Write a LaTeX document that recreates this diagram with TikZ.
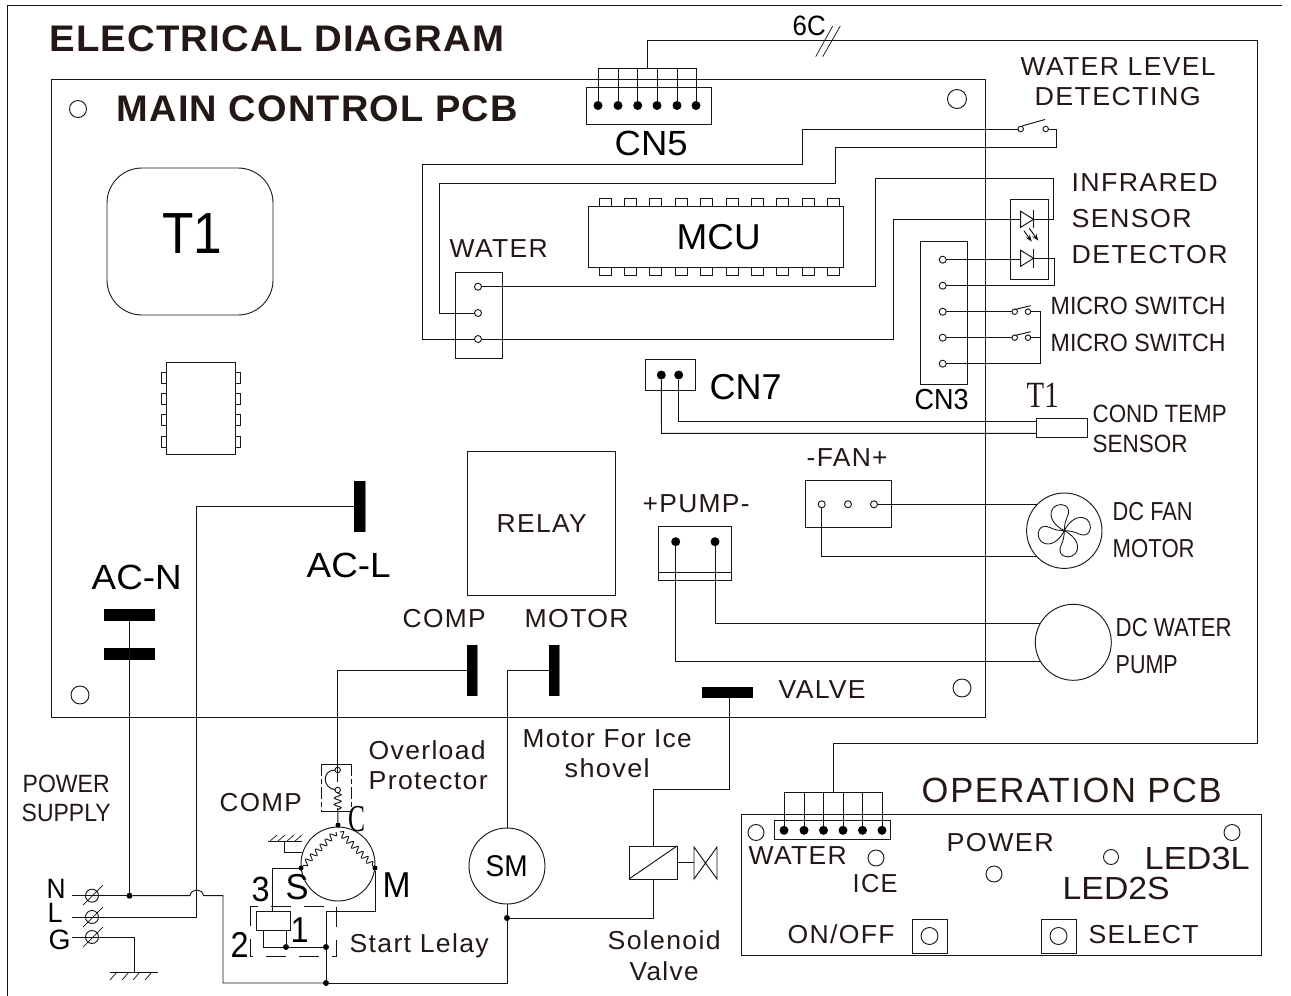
\documentclass[tikz,border=0pt]{standalone}
\usepackage{graphicx}
\usepackage{fontspec}
\setmainfont{Liberation Sans}
\newfontfamily\spf[LetterSpace=5]{Liberation Sans}
\newfontfamily\boldf[LetterSpace=3]{Liberation Sans Bold}
\newfontfamily\serf{Liberation Serif}
\usetikzlibrary{decorations.pathmorphing,arrows.meta}
\definecolor{ink}{HTML}{231815}
\newsavebox\fwbox
\newcommand\fw[4]{\sbox\fwbox{#1\fontsize{#3}{#3}\selectfont #4}\pgfmathsetmacro\fwr{#2/(\wd\fwbox)}\scalebox{\fwr}[1]{\usebox\fwbox}}
% \lab[style]{name}{x}{y}{font}{width}{size}{text}
\newcommand\lab[8][]{\node[lbl,#1] (#2) at ({#3-0.3},{#4-0.2}) {\fw{#5}{#6}{#7}{#8}};}
\tikzset{
  wire/.style={line width=0.95pt,draw=black!92,line join=miter},
  box/.style={draw=black!90,line width=0.9pt,rectangle,inner sep=0pt,outer sep=0pt},
  lbl/.style={inner sep=0pt,outer sep=0pt,anchor=base west,text=ink},
  blk/.style={text=black},
  pin/.style={draw=black!90,line width=0.95pt,circle,inner sep=0pt,outer sep=0pt,minimum size=7pt},
  smallpin/.style={pin,minimum size=5.5pt},
  hole/.style={pin,minimum size=17pt},
  dotn/.style={fill=black,circle,inner sep=0pt,outer sep=0pt,minimum size=9pt},
  jn/.style={fill=black,circle,inner sep=0pt,outer sep=0pt,minimum size=6pt},
  term/.style={fill=black,rectangle,inner sep=0pt,outer sep=0pt},
  screw/.style={pin,minimum size=13pt},
  pad/.style={draw=black!90,line width=0.95pt},
}
\begin{document}
\begin{tikzpicture}[x=1pt,y=-1pt]
\useasboundingbox (0,0) rectangle (1291,996);
\fill[white] (0,0) rectangle (1291,996);
% outer frame
\coordinate (fa) at (7,996);\coordinate (fb) at (1282,5.5);
\draw[wire] (fa) -- (7,5.5) -- (fb);
% main boards
\node[box,minimum width=934pt,minimum height=638pt] (pcb) at (518,398) {};
\node[box,minimum width=166pt,minimum height=147pt,rounded corners=35pt] (t1box) at (190,241.5) {};
\node[box,minimum width=69pt,minimum height=92pt] (chip) at (200.5,408) {};
\foreach \y in {372,393,414.5,436}{
  \draw[pad] (166,\y) rectangle (161,\y+11);
  \draw[pad] (235,\y) rectangle (240,\y+11);
}
\node[box,minimum width=255pt,minimum height=61pt] (mcu) at (715.5,236.5) {};
\foreach \i in {0,...,9}{
  \draw[pad] ({599+25.4*\i},206) -- ({599+25.4*\i},198) -- ({611+25.4*\i},198) -- ({611+25.4*\i},206);
  \draw[pad] ({599+25.4*\i},267) -- ({599+25.4*\i},275) -- ({611+25.4*\i},275) -- ({611+25.4*\i},267);
}
\node[box,minimum width=148pt,minimum height=144pt] (relay) at (541,523) {};
% holes
\node[hole] (h1) at (78,109) {};
\node[hole,minimum size=19pt] (h2) at (957,99) {};
\node[hole,minimum size=18pt] (h3) at (80,695) {};
\node[hole,minimum size=18pt] (h4) at (962,688) {};
% CN5
\node[box,minimum width=125pt,minimum height=37pt] (cn5) at (648.5,105.5) {};
\foreach \n/\x in {a/598,b/618,c/637.7,d/657,e/677,f/696}{
  \node[dotn] (c5\n) at (\x,105.5) {};
  \coordinate (c5t\n) at (\x,68);
  \draw[wire] (c5\n) -- (c5t\n);
}
\coordinate (c5s) at (647.7,68);
\draw[wire] (c5ta) -- (c5tf);
\coordinate (c5end) at (833.3,743);
\coordinate (oprt) at (833.3,792.3);
\draw[wire] (c5s) -- (647.7,40.7) -- (1257,40.7) -- (1257,743) -- (c5end) -- (oprt);
\coordinate (sl1a) at (815.7,56.7);\coordinate (sl1b) at (832.7,26);
\coordinate (sl2a) at (822.7,56.7);\coordinate (sl2b) at (840.3,26);
\draw[wire,line width=0.7pt] (sl1a) -- (sl1b) (sl2a) -- (sl2b);
% WATER connector
\node[box,minimum width=47pt,minimum height=86pt] (wbox) at (479,315.7) {};
\node[pin] (w1) at (478,286.7) {};
\node[pin] (w2) at (478,313) {};
\node[pin] (w3) at (478,339) {};
% water level switch
\node[smallpin] (sa) at (1020.7,129) {};
\node[smallpin] (sb) at (1045.7,129) {};
\draw[wire] (1022,126) -- (1045,119.5);
\draw[wire] (w3) -- (422,339) -- (422,164) -- (802.7,164) -- (802.7,129) -- (sa);
\draw[wire] (w2) -- (439.3,313) -- (439.3,183.3) -- (835,183.3) -- (835,147.7) -- (1056,147.7) -- (1056,129) -- (sb);
% IR sensor
\node[box,minimum width=38pt,minimum height=79.7pt] (ir) at (1029.3,239.2) {};
\coordinate (d1a) at (1020.7,219.3);\coordinate (d1k) at (1033.5,219.3);
\coordinate (d2a) at (1020.7,258.3);\coordinate (d2k) at (1033.5,258.3);
\draw[wire] (1020.7,211.3) -- (d1k) -- (1020.7,227.3) -- cycle;
\draw[wire] (1033.5,210) -- (1033.5,228);
\draw[wire] (1020.7,250.3) -- (d2k) -- (1020.7,266.3) -- cycle;
\draw[wire] (1033.5,249) -- (1033.5,268);
\coordinate (ar1a) at (1024,230.7);\coordinate (ar1b) at (1031.7,241.7);
\coordinate (ar2a) at (1029.3,228.3);\coordinate (ar2b) at (1038.3,240.7);
\draw[wire,-{Stealth[length=7pt,width=5pt]}] (ar1a) -- (ar1b);
\draw[wire,-{Stealth[length=7pt,width=5pt]}] (ar2a) -- (ar2b);
\draw[wire] (w1) -- (875.3,286.7) -- (875.3,178.5) -- (1053.7,178.5) -- (1053.7,219.3) -- (d1k);
\draw[wire] (w3) -- (893.7,339) -- (893.7,219.3) -- (d1a);
% CN3
\node[box,minimum width=47pt,minimum height=142.3pt] (cn3) at (943.8,312.9) {};
\node[pin] (c1) at (942.7,259.7) {};
\node[pin] (c2) at (942.7,285.7) {};
\node[pin] (c3) at (942.7,311.7) {};
\node[pin] (c4) at (942.7,337.7) {};
\node[pin] (c5) at (942.7,363.7) {};
\draw[wire] (c1) -- (1020.7,259.7);
\draw[wire] (d2k) -- (1054,258.3) -- (1054,285.7) -- (c2);
\node[smallpin] (m1a) at (1014.7,311.7) {};
\node[smallpin] (m1b) at (1028,311.7) {};
\node[smallpin] (m2a) at (1014.7,337.7) {};
\node[smallpin] (m2b) at (1028,337.7) {};
\draw[wire] (1015,309.5) -- (1030.7,305.7) (1015,335.5) -- (1030.7,331.7);
\draw[wire] (c3) -- (m1a);
\draw[wire] (c4) -- (m2a);
\draw[wire] (m1b) -- (1040,311.7) -- (1040,363.7) -- (c5);
\draw[wire] (m2b) -- (1040,337.7);
% CN7 + sensor
\node[box,minimum width=50.4pt,minimum height=31pt] (cn7) at (670.5,374.8) {};
\node[dotn] (n1) at (661.3,375) {};
\node[dotn] (n2) at (678.7,375) {};
\node[box,minimum width=51pt,minimum height=19pt] (sens) at (1061.5,427.5) {};
\draw[wire] (n2) -- (678.7,421.7) -- (sens.west |- 0,421.7);
\draw[wire] (n1) -- (661.5,433.3) -- (sens.west |- 0,433.3);
% FAN
\node[box,minimum width=86.3pt,minimum height=46.6pt] (fan) at (848.2,504) {};
\node[pin] (f1) at (821.7,504.3) {};
\node[pin] (f2) at (848,504.3) {};
\node[pin] (f3) at (874,504.3) {};
\node[pin,minimum size=75.4pt] (fanm) at (1064.3,530.7) {};
\coordinate (fan1) at (1036.7,504.3);\coordinate (fan2) at (1036.7,556);
\draw[wire] (f3) -- (fan1);
\draw[wire] (f1) -- (821.7,556) -- (fan2);
\foreach \a in {0,90,180,270}{
  \begin{scope}[shift={(1064.3,530.7)},rotate=\a]
    \draw[wire,line width=0.85pt] (0,0) .. controls (-6,-3) and (-15,-10) .. (-13,-19) .. controls (-12,-25) and (-4,-28) .. (1,-25) .. controls (5,-23) and (5,-18) .. (3,-14) .. controls (1,-10) and (0,-5) .. (0,0);
  \end{scope}
}
% PUMP
\node[box,minimum width=73.4pt,minimum height=53.3pt] (pump) at (695,553.4) {};
\coordinate (pl) at (658.3,572.3);\coordinate (pr) at (731.7,572.3);
\draw[wire] (pl) -- (pr);
\node[dotn] (p1) at (675.7,541.7) {};
\node[dotn] (p2) at (715,541.7) {};
\node[pin,minimum size=76pt] (pumpm) at (1073.3,642.3) {};
\coordinate (pm1) at (1040,623.3);\coordinate (pm2) at (1040,661.7);
\draw[wire] (p2) -- (715,623.3) -- (pm1);
\draw[wire] (p1) -- (675.7,661.7) -- (pm2);
% terminals
\node[term,minimum width=11.5pt,minimum height=51pt] (acl) at (360,506) {};
\node[term,minimum width=10.5pt,minimum height=51pt] (tcomp) at (472,670) {};
\node[term,minimum width=10.5pt,minimum height=51pt] (tmot) at (554,670) {};
\node[term,minimum width=51pt,minimum height=11.5pt] (tval) at (727.5,692.5) {};
\node[term,minimum width=51pt,minimum height=12pt] (acn1) at (129.5,615) {};
\node[term,minimum width=51pt,minimum height=12pt] (acn2) at (129.5,654) {};
\draw[gray,line width=1.3pt] (acl.north east) -- (acl.south east);
\draw[gray,line width=1.3pt] (tcomp.north east) -- (tcomp.south east);
\draw[gray,line width=1.3pt] (tmot.north east) -- (tmot.south east);
% mains wiring
\node[jn] (nd) at (129.5,895.7) {};
\node[screw] (s1) at (92,895.7) {};
\node[screw] (s2) at (92,917) {};
\node[screw] (s3) at (92,937) {};
\draw[wire,line width=0.7pt] (83,905) -- (103,885) (83,927) -- (103,907) (83,947) -- (103,927);
\coordinate (nl) at (72,895.7);\coordinate (ll) at (72,917);\coordinate (gl) at (72,937);
\coordinate (gnd) at (134,972);
\draw[wire] (acn1) -- (nd);
\node[jn] (rd) at (326,983) {};
\node[jn] (smd) at (507,918) {};
\draw[wire] (nl) -- (nd);
\draw[wire] (nd) -- (190,895.7) .. controls (191,888) and (202.5,888) .. (203.5,895.7) -- (223,895.7) -- (223,983) -- (rd);
\draw[wire] (ll) -- (196.7,917) -- (196.7,506) -- (acl);
\draw[wire] (gl) -- (134,937) -- (gnd);
\draw[wire] (110,972) -- (158,972);
\foreach \x in {110,122,133,145}{\draw[wire,line width=0.7pt] (\x,980) -- (\x+7,972);}
% SM
\node[pin,minimum size=76pt] (sm) at (507,866) {};
\draw[wire] (rd) -- (507,983) -- (smd);
\draw[wire] (smd) -- (sm);
\draw[wire] (sm) -- (507,670) -- (tmot);
% solenoid
\node[box,minimum width=48pt,minimum height=33pt] (sol) at (653,862.5) {};
\coordinate (solA) at (629,879);\coordinate (solB) at (677,846);
\draw[wire] (solA) -- (solB);
\draw[wire] (smd) -- (653,918) -- (sol.south);
\draw[wire] (sol.north) -- (653,789) -- (729.5,789) -- (729.5,698);
\coordinate (vs) at (694,862.5);
\draw[wire] (sol.east) -- (vs);
\draw[wire] (694,847) -- (717,879) -- (717,847) -- (694,879) -- cycle;
% compressor
\node[pin,minimum size=74pt] (comp) at (338,864) {};
\node[smallpin] (oa) at (337.7,770) {};
\node[smallpin] (ob) at (337.7,790) {};
\node[jn,minimum size=5pt] (ctop) at (338,825) {};
\node[jn,minimum size=5pt] (sd) at (301,868) {};
\node[jn,minimum size=5pt] (md) at (375,868) {};
\draw[wire] (321,764) -- (351,764) (321,811) -- (351,811);
\draw[wire,dash pattern=on 12pt off 3pt on 5pt off 3pt] (321,764) -- (321,811);
\draw[wire,dash pattern=on 12pt off 3pt on 5pt off 3pt] (351,764) -- (351,811);
\draw[wire] (tcomp) -- (337.7,670) -- (337.7,782);
\draw[wire] (oa) .. controls (322,770) and (322,788) .. (ob);
\draw[wire,decorate,decoration={snake,amplitude=3.5pt,segment length=6.5pt}] (ob) -- (337.7,810);
\draw[wire] (337.7,808) -- (ctop);
\coordinate (wl) at (336,832);\coordinate (wr) at (340,832);
\draw[wire,line width=0.9pt,decorate,decoration={snake,amplitude=3pt,segment length=7pt}] (wl) -- (sd);
\draw[wire,line width=0.9pt,decorate,decoration={snake,amplitude=3pt,segment length=7pt}] (wr) -- (md);
\coordinate (g0) at (302,852);
\draw[wire] (268,841) -- (302,841);
\draw[wire] (g0) -- (284,852) -- (284,841);
\foreach \x in {270,278,287,295}{\draw[wire,line width=0.7pt] (\x,841) -- (\x+7,835);}
% start relay
\node[box,minimum width=34pt,minimum height=19pt] (coil) at (273,921) {};
\node[jn] (q1) at (286,947) {};
\node[jn] (q2) at (326,947) {};
\draw[wire] (sd) -- (272,868) -- (272,911.5);
\draw[wire] (263.5,930.5) -- (263.5,947) -- (q1);
\draw[wire] (286,930.5) -- (q1);
\draw[wire] (q1) -- (q2);
\draw[wire] (rd) -- (q2);
\draw[wire] (q2) -- (326,911) -- (375,911) -- (md);
\draw[wire,dash pattern=on 20pt off 13pt] (250,906) rectangle (336,956);
% operation board
\node[box,minimum width=520pt,minimum height=141pt] (op) at (1001,884.8) {};
\node[box,minimum width=116.3pt,minimum height=19.3pt] (conn) at (832.2,829.7) {};
\foreach \n/\x in {a/784,b/804,c/823.5,d/843,e/862.5,f/882}{
  \node[dotn] (o\n) at (\x,830.3) {};
  \coordinate (ot\n) at (\x,792.3);
  \draw[wire] (o\n) -- (ot\n);
}
\draw[wire] (ota) -- (otf);
\node[hole,minimum size=16pt] (l1) at (756,832.5) {};
\node[hole,minimum size=16pt] (l2) at (876,858) {};
\node[hole,minimum size=16pt] (l3) at (994,874) {};
\node[hole,minimum size=15pt] (l4) at (1111,857) {};
\node[hole,minimum size=16pt] (l5) at (1232,832.5) {};
\node[box,minimum width=35pt,minimum height=34pt] (btn1) at (929.5,936) {};
\node[pin,minimum size=17pt] (btn1c) at (929.5,936) {};
\node[box,minimum width=35pt,minimum height=34pt] (btn2) at (1058.5,936) {};
\node[pin,minimum size=17pt] (btn2c) at (1058.5,936) {};
% texts
\lab{x1}{49.7}{51.2}{\boldf}{455}{37}{ELECTRICAL DIAGRAM}
\lab{x2}{117}{122}{\boldf}{401}{37}{MAIN CONTROL PCB}
\lab[blk]{x3}{162.5}{253.5}{}{60}{58}{T1}
\lab[blk]{x4}{615}{156}{}{73}{35}{CN5}
\lab{x5}{450}{258}{\spf}{98}{26}{WATER}
\lab[blk]{x6}{677}{250}{}{84}{36}{MCU}
\lab{x7}{1021}{75.5}{\spf}{195}{26}{WATER LEVEL}
\lab{x8}{1035}{105.5}{\spf}{166}{26}{DETECTING}
\lab{x9}{1072}{192}{\spf}{146}{26}{INFRARED}
\lab{x10}{1072}{228}{\spf}{120}{26}{SENSOR}
\lab{x11}{1072}{263.5}{\spf}{156}{26}{DETECTOR}
\lab{x12}{1051}{315}{}{175}{25}{MICRO SWITCH}
\lab{x13}{1051}{352}{}{175}{25}{MICRO SWITCH}
\lab[blk]{x14}{915}{410}{}{54}{29}{CN3}
\lab{x15}{1027}{408}{\serf}{32}{37}{T1}
\lab{x16}{1093}{423}{}{134}{25}{COND TEMP}
\lab{x17}{1093}{453}{}{95}{25}{SENSOR}
\lab[blk]{x18}{710}{400}{}{72}{36}{CN7}
\lab{x19}{807}{467}{\spf}{81}{26}{-FAN+}
\lab{x20}{643}{513}{\spf}{107}{26}{+PUMP-}
\lab{x21}{497}{533}{\spf}{90}{26}{RELAY}
\lab[blk]{x22}{307}{578}{}{84}{35}{AC-L}
\lab[blk]{x23}{92}{590}{}{90}{35}{AC-N}
\lab{x24}{403}{628}{\spf}{83}{26}{COMP}
\lab{x25}{525}{628}{\spf}{104}{26}{MOTOR}
\lab{x26}{779}{699}{\spf}{87}{26}{VALVE}
\lab{x27}{1113}{521}{}{80}{26}{DC FAN}
\lab{x28}{1113}{558}{}{82}{26}{MOTOR}
\lab{x29}{1116}{637}{}{116}{26}{DC WATER}
\lab{x30}{1116}{674}{}{62}{26}{PUMP}
\lab{x31}{369}{760}{\spf}{117}{26}{Overload}
\lab{x32}{369}{790}{\spf}{119}{26}{Protector}
\lab{x33}{523}{748}{\spf}{169}{26}{Motor For Ice}
\lab{x34}{565}{778}{\spf}{85}{26}{shovel}
\lab{x35}{23}{793}{}{87}{25}{POWER}
\lab{x36}{22}{822}{}{89}{25}{SUPPLY}
\lab{x37}{220}{812}{\spf}{82}{26}{COMP}
\lab{x38}{350}{953}{\spf}{139}{26}{Start Lelay}
\lab{x39}{608}{950}{\spf}{113}{26}{Solenoid}
\lab{x40}{630}{981}{\spf}{69}{26}{Valve}
\lab{x41}{922}{803}{\spf}{300}{35}{OPERATION PCB}
\lab{x42}{749}{865}{\spf}{98}{26}{WATER}
\lab{x43}{853}{893}{\spf}{45}{26}{ICE}
\lab{x44}{788}{944}{\spf}{107}{26}{ON/OFF}
\lab{x45}{947}{852}{\spf}{107}{26}{POWER}
\lab{x46}{1145}{870}{}{105}{32}{LED3L}
\lab{x47}{1063}{900}{}{107}{32}{LED2S}
\lab{x48}{1089}{944}{\spf}{110}{26}{SELECT}
\lab[blk]{x49}{486}{877}{}{42}{30}{SM}
\lab[blk]{x50}{793}{36}{}{33}{28}{6C}
\lab[blk]{x51}{349}{832}{\serf}{17}{38}{C}
\lab[blk]{x52}{47}{899}{}{19}{28}{N}
\lab[blk]{x53}{48}{923}{}{15}{28}{L}
\lab[blk]{x54}{49}{949.5}{}{22}{28}{G}
\lab[blk]{x55}{252}{902}{}{18}{35}{3}
\lab[blk]{x56}{286}{900}{}{23}{36}{S}
\lab[blk]{x57}{383}{898}{}{28}{36}{M}
\lab[blk]{x58}{291}{943}{}{18}{36}{1}
\lab[blk]{x59}{231}{958}{}{18}{36}{2}
\end{tikzpicture}
\end{document}
